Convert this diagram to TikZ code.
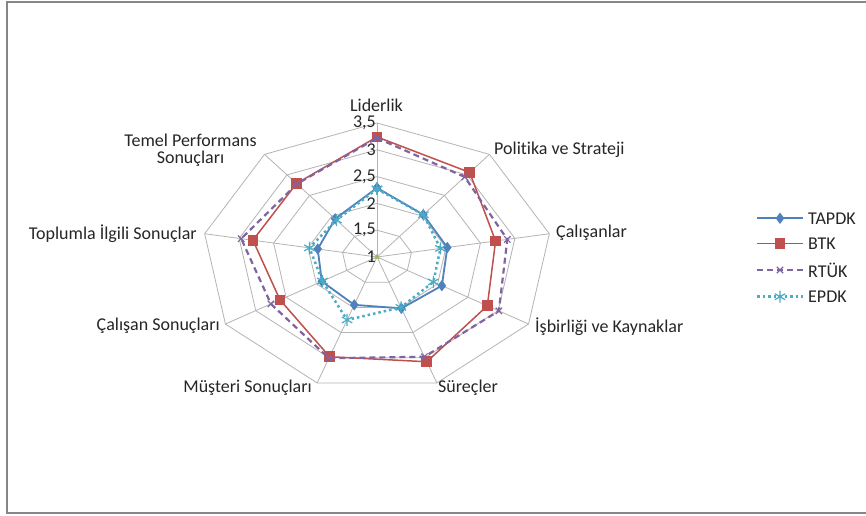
\documentclass[tikz,border=0pt]{standalone}
\usepackage{fontspec}
\setmainfont{Carlito}[Ligatures=NoCommon]
\usetikzlibrary{plotmarks}
\definecolor{cTAP}{HTML}{4F81BD}
\definecolor{cBTK}{HTML}{C0504D}
\definecolor{cRTK}{HTML}{8064A2}
\definecolor{cEPD}{HTML}{4BACC6}
\definecolor{cGRN}{HTML}{9BBB59}
\definecolor{gridc}{HTML}{B4B4B4}
\definecolor{framec}{HTML}{868686}
\begin{document}
\begin{tikzpicture}[x=1pt,y=1pt,
  lbl/.style={font=\fontsize{18}{17}\selectfont, inner sep=0pt, text=black!85},
  gridline/.style={gridc, line width=0.8pt},
  stap/.style={cTAP, line width=1.8pt, mark=diamond*, mark size=4.2pt, mark options={solid, fill=cTAP}},
  sbtk/.style={cBTK, line width=1.5pt, mark=square*, mark size=4.6pt, mark options={solid, fill=cBTK}},
  srtk/.style={cRTK, line width=2.2pt, dash pattern=on 6pt off 4pt, mark=x, mark size=4.5pt, mark options={solid, line width=1.2pt}},
  sepd/.style={cEPD, line width=2.5pt, dash pattern=on 2.5pt off 3pt, mark=asterisk, mark size=6pt, mark options={solid, line width=1.2pt}}
]
\useasboundingbox (0,0) rectangle (866,515);
\fill[white] (0,0) rectangle (866,515);
\draw[framec, line width=2pt] (866,2.3) -| (7.3,513.3) -- (866,513.3);

\begin{scope}[shift={(377pt,258pt)}, x=70pt, y=53.6pt]
  % grid
  \foreach \r in {0.5,1,1.5,2,2.5}
    \draw[gridline] (90:\r) -- (50:\r) -- (10:\r) -- (-30:\r) -- (-70:\r) -- (-110:\r) -- (-150:\r) -- (-190:\r) -- (-230:\r) -- cycle;
  \foreach \a in {90,50,10,-30,-70,-110,-150,-190,-230}
    \draw[gridline] (0,0) -- (\a:2.5);
  % series
  \draw[stap] plot coordinates {(90:1.29) (50:1.03) (10:1.02) (-30:1.07) (-70:1.02) (-110:0.95) (-150:0.91) (-190:0.86) (-230:0.93) (90:1.29)};
  \draw[sbtk] plot coordinates {(90:2.24) (50:2.06) (10:1.72) (-30:1.82) (-70:2.08) (-110:1.98) (-150:1.60) (-190:1.80) (-230:1.79) (90:2.24)};
  \draw[srtk] plot coordinates {(90:2.22) (50:1.95) (10:1.89) (-30:2.01) (-70:1.98) (-110:2.01) (-150:1.75) (-190:1.97) (-230:1.78) (90:2.22)};
  \draw[sepd] plot coordinates {(90:1.27) (50:1.03) (10:0.92) (-30:0.93) (-70:1.00) (-110:1.25) (-150:0.90) (-190:0.98) (-230:0.90) (90:1.27)};
  \fill[cGRN] (0,0.06) -- (-0.04,-0.03) -- (0.04,-0.03) -- cycle;
\end{scope}

% tick labels
\node[lbl, anchor=east] at (376,258) {1};
\node[lbl, anchor=east] at (376,284.8) {1,5};
\node[lbl, anchor=east] at (376,311.6) {2};
\node[lbl, anchor=east] at (376,338.4) {2,5};
\node[lbl, anchor=east] at (376,365.2) {3};
\node[lbl, anchor=east] at (376,392) {3,5};

% axis labels
\node[lbl] (lid) at (376.5,410) {Liderlik};
\node[lbl, anchor=west] (pol) at (494,365) {Politika ve Strateji};
\node[lbl, anchor=west] (cal) at (556,282) {Çalışanlar};
\node[lbl, anchor=west] (isb) at (535,188) {İşbirliği ve Kaynaklar};
\node[lbl, anchor=west] (sur) at (438,127) {Süreçler};
\node[lbl, anchor=east] (mus) at (312,127) {Müşteri Sonuçları};
\node[lbl, anchor=east] (cso) at (220,189) {Çalışan Sonuçları};
\node[lbl, anchor=east] (top) at (197,281) {Toplumla İlgili Sonuçlar};
\node[lbl, align=center] (tem) at (190.5,365) {Temel Performans\\Sonuçları};

% legend
\draw[stap] (757,296.7) -- (803,296.7);
\draw[stap] plot[only marks] coordinates {(780,296.7)};
\node[lbl, anchor=west] (lg1) at (808,296.7) {TAPDK};
\draw[sbtk] (757,271.7) -- (803,271.7);
\draw[sbtk] plot[only marks] coordinates {(780,271.7)};
\node[lbl, anchor=west] (lg2) at (808,271.7) {BTK};
\draw[srtk] (757,245) -- (803,245);
\draw[srtk] plot[only marks] coordinates {(780,245)};
\node[lbl, anchor=west] (lg3) at (808,245) {RTÜK};
\draw[sepd] (757,218.3) -- (803,218.3);
\draw[sepd] plot[only marks] coordinates {(780,218.3)};
\node[lbl, anchor=west] (lg4) at (808,218.3) {EPDK};
\end{tikzpicture}
\end{document}
